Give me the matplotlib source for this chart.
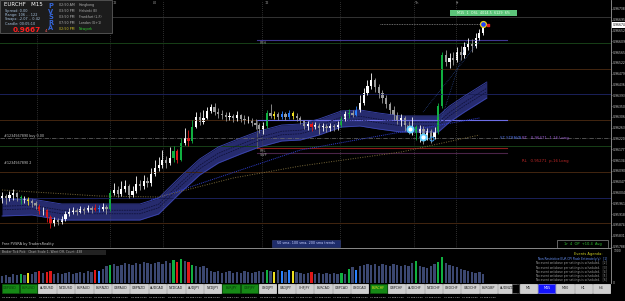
import numpy as np
import matplotlib
matplotlib.use("Agg")
import matplotlib.pyplot as plt
from matplotlib.patches import Rectangle

# ---- data (EURCHF M15) ----
first_open = 0.95982
close = [0.95990, 0.95978, 0.95994, 0.96002, 0.95986, 0.95974, 0.95982, 0.95970, 0.95962, 0.95950,
         0.95930, 0.95934, 0.95906, 0.95878, 0.95894, 0.95886, 0.95898, 0.95918, 0.95926, 0.95934,
         0.95926, 0.95938, 0.95930, 0.95942, 0.95934, 0.95942, 0.95938, 0.95946, 0.95938, 0.96002,
         0.96014, 0.95998, 0.96018, 0.96030, 0.95994, 0.96010, 0.96038, 0.96030, 0.96050, 0.96042,
         0.96078, 0.96102, 0.96114, 0.96134, 0.96122, 0.96142, 0.96170, 0.96134, 0.96202, 0.96222,
         0.96210, 0.96266, 0.96306, 0.96286, 0.96302, 0.96330, 0.96346, 0.96326, 0.96318, 0.96314,
         0.96306, 0.96310, 0.96302, 0.96314, 0.96298, 0.96290, 0.96294, 0.96282, 0.96274, 0.96258,
         0.96270, 0.96322, 0.96310, 0.96318, 0.96306, 0.96318, 0.96306, 0.96322, 0.96310, 0.96302,
         0.96290, 0.96270, 0.96278, 0.96266, 0.96274, 0.96262, 0.96270, 0.96262, 0.96270, 0.96266,
         0.96274, 0.96298, 0.96318, 0.96322, 0.96314, 0.96334, 0.96362, 0.96402, 0.96430, 0.96454,
         0.96426, 0.96402, 0.96382, 0.96358, 0.96334, 0.96314, 0.96290, 0.96302, 0.96274, 0.96254,
         0.96266, 0.96242, 0.96258, 0.96234, 0.96250, 0.96226, 0.96246, 0.96350, 0.96554, 0.96526,
         0.96542, 0.96534, 0.96566, 0.96554, 0.96586, 0.96598, 0.96590, 0.96622, 0.96642, 0.96674]
high = [0.96006, 0.95998, 0.96010, 0.96018, 0.96006, 0.95994, 0.95990, 0.95986, 0.95978, 0.95970,
        0.95958, 0.95946, 0.95938, 0.95914, 0.95906, 0.95902, 0.95910, 0.95930, 0.95942, 0.95946,
        0.95942, 0.95950, 0.95946, 0.95954, 0.95950, 0.95958, 0.95954, 0.95962, 0.95954, 0.96014,
        0.96042, 0.96030, 0.96050, 0.96054, 0.96038, 0.96030, 0.96070, 0.96054, 0.96074, 0.96066,
        0.96102, 0.96134, 0.96146, 0.96174, 0.96150, 0.96186, 0.96190, 0.96178, 0.96222, 0.96262,
        0.96254, 0.96294, 0.96326, 0.96326, 0.96334, 0.96346, 0.96358, 0.96362, 0.96342, 0.96334,
        0.96326, 0.96326, 0.96318, 0.96330, 0.96318, 0.96314, 0.96310, 0.96302, 0.96298, 0.96282,
        0.96286, 0.96334, 0.96358, 0.96330, 0.96326, 0.96330, 0.96326, 0.96334, 0.96330, 0.96322,
        0.96310, 0.96294, 0.96290, 0.96286, 0.96286, 0.96282, 0.96282, 0.96278, 0.96282, 0.96278,
        0.96290, 0.96310, 0.96330, 0.96338, 0.96334, 0.96350, 0.96394, 0.96422, 0.96454, 0.96482,
        0.96462, 0.96438, 0.96414, 0.96394, 0.96366, 0.96350, 0.96326, 0.96318, 0.96310, 0.96290,
        0.96306, 0.96274, 0.96274, 0.96270, 0.96262, 0.96258, 0.96266, 0.96362, 0.96566, 0.96574,
        0.96562, 0.96566, 0.96586, 0.96590, 0.96606, 0.96622, 0.96618, 0.96642, 0.96658, 0.96682]
low = [0.95962, 0.95958, 0.95970, 0.95974, 0.95970, 0.95958, 0.95962, 0.95954, 0.95946, 0.95938,
       0.95918, 0.95914, 0.95886, 0.95862, 0.95870, 0.95874, 0.95878, 0.95890, 0.95910, 0.95918,
       0.95914, 0.95922, 0.95918, 0.95926, 0.95922, 0.95930, 0.95926, 0.95930, 0.95918, 0.95930,
       0.95994, 0.95986, 0.95990, 0.96006, 0.95982, 0.95986, 0.96002, 0.96014, 0.96018, 0.96026,
       0.96030, 0.96070, 0.96090, 0.96102, 0.96102, 0.96114, 0.96126, 0.96122, 0.96130, 0.96194,
       0.96190, 0.96202, 0.96262, 0.96274, 0.96278, 0.96298, 0.96322, 0.96314, 0.96302, 0.96298,
       0.96290, 0.96294, 0.96286, 0.96290, 0.96286, 0.96278, 0.96282, 0.96270, 0.96258, 0.96242,
       0.96238, 0.96262, 0.96302, 0.96298, 0.96294, 0.96298, 0.96294, 0.96298, 0.96298, 0.96290,
       0.96278, 0.96258, 0.96254, 0.96250, 0.96258, 0.96238, 0.96250, 0.96246, 0.96250, 0.96250,
       0.96254, 0.96266, 0.96290, 0.96302, 0.96306, 0.96310, 0.96326, 0.96354, 0.96394, 0.96418,
       0.96406, 0.96382, 0.96362, 0.96342, 0.96318, 0.96294, 0.96278, 0.96270, 0.96250, 0.96238,
       0.96234, 0.96214, 0.96206, 0.96198, 0.96214, 0.96202, 0.96218, 0.96238, 0.96342, 0.96510,
       0.96502, 0.96514, 0.96526, 0.96534, 0.96542, 0.96574, 0.96566, 0.96582, 0.96614, 0.96634]
volume = [280, 320, 240, 360, 320, 360, 320, 400, 360, 440,
          480, 400, 440, 480, 360, 400, 360, 400, 440, 360,
          400, 440, 400, 480, 440, 520, 480, 560, 680, 720,
          760, 680, 720, 800, 760, 720, 800, 760, 840, 800,
          760, 800, 840, 760, 880, 800, 920, 840, 960, 880,
          840, 720, 680, 640, 680, 600, 480, 440, 480, 400,
          440, 480, 400, 440, 400, 480, 440, 400, 440, 480,
          440, 520, 480, 440, 520, 480, 440, 520, 480, 440,
          400, 360, 400, 440, 360, 400, 360, 400, 360, 400,
          360, 400, 360, 560, 640, 520, 680, 720, 760, 720,
          760, 680, 760, 720, 680, 760, 720, 680, 720, 680,
          800, 880, 680, 640, 600, 680, 760, 840, 1040, 800,
          720, 680, 640, 560, 520, 480, 440, 400, 440, 360]

# PVSRA highlighted bars
green_idx = [5, 29, 46, 48, 51, 71, 91, 93, 111, 117, 118]
yellow_idx = [7, 73, 78]
red_idx = [10, 12, 13, 25, 47, 50, 83]
blue_idx = [26, 75, 77, 95]

# moving-average band (centre) and slower averages
band_x = [0, 8, 16, 26, 37, 42, 48, 53, 58, 64, 69, 75, 80, 85, 91, 96, 101, 107, 112, 117, 120, 124, 130]
band_mid = [0.95942, 0.95946, 0.95926, 0.95926, 0.95926, 0.95950, 0.96038, 0.96106, 0.96154, 0.96190,
            0.96218, 0.96242, 0.96246, 0.96266, 0.96298, 0.96302, 0.96290, 0.96278, 0.96278, 0.96278,
            0.96318, 0.96358, 0.96414]
band_half = 0.00032
ma_blue_x = [40, 56, 80, 128]
ma_blue = [0.95974, 0.96054, 0.96174, 0.96302]
ma_olive_x = [0, 26, 42, 62, 80, 107, 128]
ma_olive = [0.96014, 0.95990, 0.95986, 0.96062, 0.96110, 0.96166, 0.96234]
fan_a_x = [112.9, 128.2]
fan_a = [0.96326, 0.96614]
fan_b_x = [116.6, 124.7]
fan_b = [0.96242, 0.96614]

level_prices = [0.96706, 0.96602, 0.96498, 0.96398, 0.96294, 0.96190, 0.96086, 0.95982, 0.95882]
level_colors = ["#333333", "#173f17", "#432610", "#1a205a", "#432610", "#173f17", "#432610", "#1a205a", "#432610"]
pivot_prices = [0.96614, 0.96294, 0.96182, 0.96162]
pivot_colors = ["#3e3690", "#6d6de6", "#8e1c1c", "#4a2448"]
pivot_names = ["R3H", "", "R3L", "SWP"]
stop_line = 0.96222
bid_line = 0.96678

price_ticks = [0.96738, 0.96695, 0.96652, 0.96609, 0.96565, 0.96522, 0.96479, 0.96436, 0.96393, 0.96350,
               0.96306, 0.96263, 0.96220, 0.96177, 0.96134, 0.96090, 0.96047, 0.96004, 0.95961, 0.95918,
               0.95874, 0.95831, 0.95788]
last_price = 0.96674

pairs = ["GBPUSD", "EURUSD", "AUDUSD", "NZDUSD", "EURAUD", "EURNZD", "GBPAUD", "GBPNZD", "AUDCAD", "NZDCAD",
         "AUDJPY", "NZDJPY", "EURJPY", "GBPJPY", "USDJPY", "CADJPY", "CHFJPY", "EURCAD", "GBPCAD", "USDCAD",
         "EURCHF", "GBPCHF", "AUDCHF", "NZDCHF", "USDCHF", "CADCHF", "EURGBP", "AUDNZD"]
green_pairs = ["GBPUSD", "EURUSD", "EURJPY", "GBPJPY", "EURCHF"]
timeframes = ["M5", "M15", "M30", "H1", "H4"]
date_labels = ["28 Sep 2022", "28 Sep 19:00", "28 Sep 21:00", "28 Sep 23:00", "29 Sep 01:00", "29 Sep 03:00",
               "29 Sep 05:00", "29 Sep 07:00", "29 Sep 09:00", "29 Sep 11:00", "29 Sep 13:00", "29 Sep 15:00",
               "29 Sep 17:00", "29 Sep 19:00", "29 Sep 21:00", "29 Sep 23:00", "30 Sep 01:00", "30 Sep 03:00",
               "30 Sep 05:00", "30 Sep 07:00", "30 Sep 09:00", "30 Sep 11:00", "30 Sep 13:00", "30 Sep 15:00",
               "30 Sep 17:00", "30 Sep 19:00", "30 Sep 21:00"]
sessions = [("02:50 AM", "Hongkong"), ("03:50 PM", "Helsinki (E)"), ("03:50 PM", "Frankfurt (L,F)"),
            ("07:50 PM", "London (G+1)"), ("02:50 PM", "Newyork")]

W, H = 625, 301
fig = plt.figure(figsize=(6.25, 3.01), dpi=100, facecolor="black")


def rect(x0, y0, x1, y1):
    return [x0 / W, 1 - y1 / H, (x1 - x0) / W, (y1 - y0) / H]


n = len(close)
xs = np.arange(n)
op = np.array([first_open] + close[:-1])
cl = np.array(close)
colors = []
for i in range(n):
    if i in green_idx:
        colors.append("#10b040")
    elif i in red_idx:
        colors.append("#e01818")
    elif i in yellow_idx:
        colors.append("#f0e020")
    elif i in blue_idx:
        colors.append("#2a80ff")
    elif cl[i] >= op[i]:
        colors.append("#ffffff")
    else:
        colors.append("#9a9a9a")

XL = (-0.54, 163.3)

# ---- main price window ----
ax = fig.add_axes(rect(0, 0, 611, 248))
ax.set_facecolor("black")
ax.set_xlim(*XL)
ax.set_ylim(0.95782, 0.96774)

for x in [37, 110, 163, 262, 340, 414, 456]:
    ax.axvline((x - 2) / 3.73, color="#5a5a5a", lw=0.5, ls=(0, (1, 2)))
for p, c in zip(level_prices, level_colors):
    ax.axhline(p, color=c, lw=0.7)
ax.axhline(stop_line, color="#707070", lw=0.5, ls="-.")
for p, c, nm in zip(pivot_prices, pivot_colors, pivot_names):
    ax.plot([68.4, 135.4], [p, p], color=c, lw=0.8)
    if nm:
        ax.text(69, p - 0.00002, nm, color="#9a9a9a", fontsize=2.4, va="top")
ax.plot([68.4, 68.4], [0.96294, 0.96182], color="#6a6a6a", lw=0.5)
ax.plot([101.3, 129], [bid_line, bid_line], color="#8a8a8a", lw=0.6, ls=(0, (1, 1)))

bm = np.array(band_mid)
ax.fill_between(band_x, bm - band_half, bm + band_half, color="#262b6e", lw=0)
ax.plot(band_x, bm + band_half, color="#3c46b0", lw=0.6)
ax.plot(band_x, bm - band_half, color="#3c46b0", lw=0.6)
ax.plot(band_x, bm + 0.00007, color="#10123a", lw=0.6, ls=(0, (2, 1)))
ax.plot(band_x, bm - 0.00007, color="#10123a", lw=0.6, ls=(0, (2, 1)))
ax.plot(ma_blue_x, ma_blue, color="#2f3fd0", lw=0.7, ls=(0, (1, 1)))
ax.plot(ma_olive_x, ma_olive, color="#7a6a3a", lw=0.7, ls=(0, (1, 1.5)))
ax.plot(fan_a_x, fan_a, color="#3050a0", lw=0.5, ls=(0, (1, 1.5)))
ax.plot(fan_b_x, fan_b, color="#3050a0", lw=0.5, ls=(0, (1, 1.5)))

ax.vlines(xs, low, high, color=colors, lw=0.6)
body = np.abs(cl - op)
body = np.where(body < 0.00002, 0.00002, body)
ax.bar(xs, body, bottom=np.minimum(cl, op), width=0.6, color=colors, lw=0)

# signal markers
ax.scatter([109.4, 112.9], [0.96258, 0.96226], s=22, color="#5ccfff", zorder=5)
ax.scatter([109.4, 112.9], [0.96258, 0.96226], s=4, color="white", zorder=6)
ax.scatter([115.3], [0.96218], s=9, facecolor="none", edgecolor="#3aa8ff", lw=0.7, zorder=5)
ax.scatter([129], [last_price + 0.00004], s=18, color="#2040ff", edgecolor="#e8d020", lw=0.9, zorder=6)
ax.scatter([130.4], [last_price], s=3, marker="s", color="#e02020", zorder=6)

ax.yaxis.tick_right()
ax.set_yticks(price_ticks)
ax.set_yticklabels(["%.5f" % t for t in price_ticks], fontsize=2.2, color="#d0d0d0")
ax.tick_params(axis="y", length=1, width=0.4, color="#aaaaaa", pad=0.6)
ax.set_xticks([])
for s in ["top", "left", "bottom"]:
    ax.spines[s].set_visible(False)
ax.spines["right"].set_color("#9a9a9a")
ax.spines["right"].set_linewidth(0.6)
ax.text(1.0025, last_price, "%.5f" % last_price, transform=ax.get_yaxis_transform(), fontsize=2.2,
        color="black", va="center", ha="left",
        bbox=dict(boxstyle="square,pad=0.2", fc="white", ec="white", lw=0))

ax.text(133.5, 0.96222, "ST STRAVN", color="#4a6ad8", fontsize=2.8, va="center")
ax.text(139.5, 0.96222, "BT   0.96471  1 16 Long", color="#9a5ad0", fontsize=2.8, va="center")
ax.text(139.5, 0.96130, "RL   0.95271  p-16 Long", color="#c02828", fontsize=2.8, va="center")
ax.text(0.5, 0.96230, "#1234567890 buy 0.00", color="#c8c8c8", fontsize=2.4, va="center")
ax.text(0.5, 0.96122, "#1234567890 2", color="#c8c8c8", fontsize=2.4, va="center")

# ---- volume sub window ----
ax2 = fig.add_axes(rect(0, 249, 611, 283))
ax2.set_facecolor("black")
ax2.set_xlim(*XL)
ax2.set_ylim(0, 1360)
vcol = ["#3b4770" if c in ("#ffffff", "#9a9a9a") else c for c in colors]
ax2.bar(xs, volume, width=0.62, color=vcol, lw=0)
ax2.set_xticks([])
ax2.yaxis.tick_right()
ax2.set_yticks([0, 1300])
ax2.set_yticklabels(["0", "1300"], fontsize=2.2, color="#cccccc")
ax2.tick_params(axis="y", length=1, width=0.4, pad=0.6)
for s in ["top", "left", "bottom"]:
    ax2.spines[s].set_visible(False)
ax2.spines["right"].set_color("#9a9a9a")
ax2.spines["right"].set_linewidth(0.6)

# ---- overlay panels, buttons and labels (figure pixels) ----
ov = fig.add_axes([0, 0, 1, 1], zorder=10)
ov.set_xlim(0, W)
ov.set_ylim(H, 0)
ov.axis("off")
ov.patch.set_alpha(0)

ov.add_patch(Rectangle((0, 0), 112, 33, fc="#1c1c1c", ec="#5a5a5a", lw=0.6))
ov.text(4, 5, "EURCHF   M15", color="white", fontsize=4.0, va="center")
info = ["Spread: 0.00", "Range: 106 ... 122", "Swaps: -2.07 .. 0.42", "Candle: 00:05:10"]
for k, t in enumerate(info):
    ov.text(5, 11 + 4.2 * k, t, color="#a8c4e0", fontsize=2.5, va="center")
ov.text(13, 30, "0.9667", color="#ff2020", fontsize=5.2, va="center", fontweight="bold")
ov.text(45, 30.5, "4", color="#ff6060", fontsize=2.8, va="center")
for k, ch in enumerate("PVSRA"):
    ov.text(51, 6 + 5.6 * k, ch, color="#3566d8", fontsize=4.8, va="center", ha="center", fontweight="bold")
for k, (tm, nm) in enumerate(sessions):
    last = k == len(sessions) - 1
    ov.text(59, 5 + 6 * k, tm, color="#d0c020" if last else "#b0b0b0", fontsize=2.3, va="center")
    ov.text(79, 5 + 6 * k, nm, color="#30d030" if last else "#b0b0b0", fontsize=2.3, va="center")
for x, t in [(113, "12"), (153, "L0"), (265, "12"), (414, "Th"), (456, "Fr")]:
    ov.text(x, 3, t, color="#9a9a9a", fontsize=2.5, va="center")

ov.add_patch(Rectangle((450, 10), 67, 6, fc="#5cc47a", ec="#5cc47a", lw=0))
ov.text(483.5, 13, "M15  1  OSL  4014.5  6129  6%", color="#e8ffe8", fontsize=2.4, ha="center", va="center")

ov.text(2, 244, "Free PVSRA by TradersReality", color="#c8c8c8", fontsize=2.5, va="center")
ov.add_patch(Rectangle((272, 240), 68, 7, fc="#1e2c6a", ec="#33407a", lw=0.4))
ov.text(306, 243.5, "50 sma, 100 sma, 200 sma trends", color="#c8d0ff", fontsize=2.4, ha="center", va="center")
ov.add_patch(Rectangle((557, 240), 51, 7.5, fc="black", ec="#8a8a8a", lw=0.5))
ov.text(582.5, 243.8, "1r  4  OP  +10.4  Avg", color="#30c030", fontsize=2.6, ha="center", va="center")
ov.plot([0, 611], [248.3, 248.3], color="#8a8a8a", lw=0.7)

ov.add_patch(Rectangle((0, 249.5), 106, 5, fc="#222222", lw=0))
ov.text(2, 252, "Broker Tick Pick:  Chart Scale 1, Went Off, Count: 438", color="#b0b0b0", fontsize=2.2,
        va="center")
ov.text(603, 254, "Events Agenda:", color="#cccc22", fontsize=2.6, ha="right", va="center")
ov.text(607, 259, "Non-Restrictive EUR CPI Flash Estimate(y/y)   [1]", color="#6a96ff", fontsize=2.1,
        ha="right", va="center")
for k in range(5):
    ov.text(607, 263.3 + 4.2 * k, "No event on/above per settings is scheduled.   [%d]" % (k + 2),
            color="#a0a0a0", fontsize=2.1, ha="right", va="center")

for k, p in enumerate(pairs):
    x0 = 1.5 + 18.4 * k
    green = p in green_pairs
    ov.add_patch(Rectangle((x0, 283.5), 17.4, 9.5, fc="#168a16" if green else "#cfcfcf",
                           ec="#e8e8e8" if not green else "#0c5a0c", lw=0.5))
    tc = "#f0e020" if p == "EURCHF" else ("#0a3a0a" if green else "#222222")
    ov.text(x0 + 8.7, 288.3, p, color=tc, fontsize=2.3, ha="center", va="center")
ov.add_patch(Rectangle((512, 283.5), 6.5, 9.5, fc="black", ec="#555555", lw=0.5))
for k, t in enumerate(timeframes):
    x0 = 520 + 18.2 * k
    cur = t == "M15"
    ov.add_patch(Rectangle((x0, 283.5), 17.2, 9.5, fc="#1414ff" if cur else "#cfcfcf",
                           ec="#8080ff" if cur else "#e8e8e8", lw=0.5))
    ov.text(x0 + 8.6, 288.3, t, color="white" if cur else "#222222", fontsize=2.4, ha="center", va="center")

for k, t in enumerate(date_labels):
    ov.text(2 + 18.4 * k, 297, t, color="#e0e0e0", fontsize=1.75, va="center")

fig.savefig("out.png", dpi=100, facecolor="black")
